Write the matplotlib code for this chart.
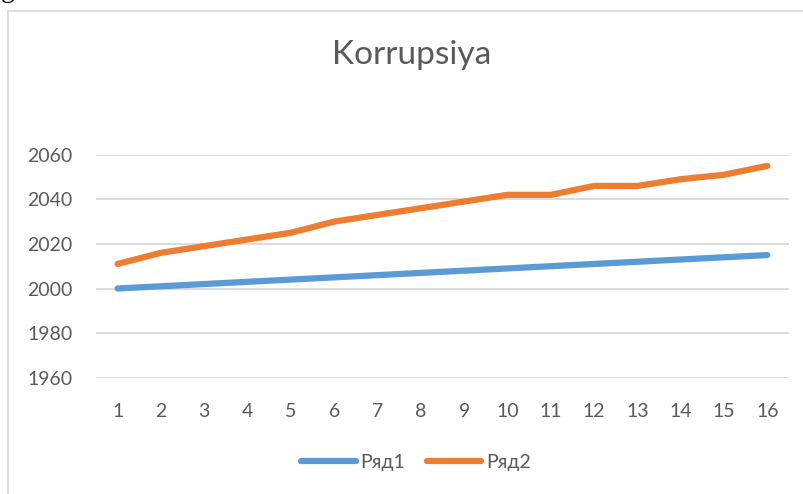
import matplotlib.pyplot as plt
from matplotlib.lines import Line2D

plt.rcParams['font.family'] = ['Lato', 'Open Sans', 'DejaVu Sans']

# data
categories = list(range(1, 17))
ryad1 = [2000, 2001, 2002, 2003, 2004, 2005, 2006, 2007, 2008, 2009, 2010, 2011, 2012, 2013, 2014, 2015]
ryad2 = [2011, 2016, 2019, 2022, 2025, 2030, 2033, 2036, 2039, 2042, 2042, 2046, 2046, 2049, 2051, 2055]
y_ticks = [1960, 1980, 2000, 2020, 2040, 2060]

W, H = 804, 494
fig = plt.figure(figsize=(W / 100, H / 100), dpi=100)

# chart frame (only top and left edges are inside the picture)
fig.add_artist(Line2D([8 / W, 1], [1 - 11 / H, 1 - 11 / H], color='#d9d9d9', lw=1.2))
fig.add_artist(Line2D([8 / W, 8 / W], [0, 1 - 11 / H], color='#d9d9d9', lw=1.2))

# piece of the document text cut off above the chart
fig.text(1 / W, 1 - 3 / H, 'g', fontsize=20, family='Liberation Serif', va='bottom', color='black')

ax = fig.add_axes([96 / W, (H - 377.7) / H, (789 - 96) / W, (377.7 - 154.7) / H])

blue = '#5b9bd5'
orange = '#ed7d31'
ax.plot(categories, ryad1, color=blue, lw=4.5, solid_capstyle='round', solid_joinstyle='round', label='Ряд1')
ax.plot(categories, ryad2, color=orange, lw=4.5, solid_capstyle='round', solid_joinstyle='round', label='Ряд2')

ax.set_xlim(0.5, 16.5)
ax.set_ylim(1960, 2060)
ax.set_yticks(y_ticks)
ax.set_xticks(categories)
ax.grid(axis='y', color='#d9d9d9', lw=1.3)
ax.set_axisbelow(True)
for s in ax.spines.values():
    s.set_visible(False)
ax.tick_params(length=0, labelsize=14, labelcolor='#595959')
ax.tick_params(axis='y', pad=17)
ax.tick_params(axis='x', pad=18)

fig.text(412 / W, 1 - 55 / H, 'Korrupsiya', fontsize=24, color='#595959', ha='center', va='center')

fig.legend(loc='center', bbox_to_anchor=(416 / W, 1 - 462 / H), ncol=2, frameon=False,
           fontsize=14, labelcolor='#595959', handlelength=2.8, handletextpad=0.25,
           columnspacing=1.1)

fig.savefig('out.png', dpi=100, facecolor='white')
